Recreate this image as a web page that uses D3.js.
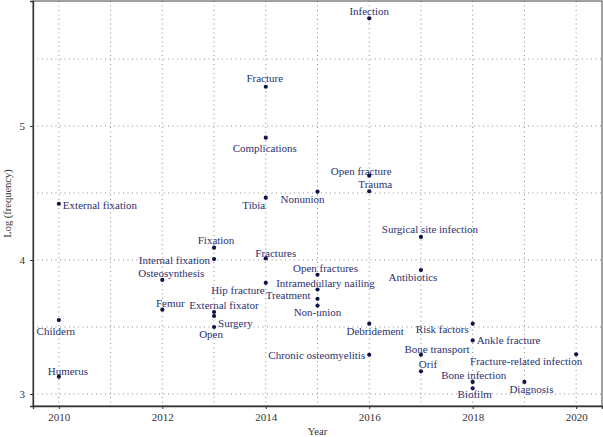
<!DOCTYPE html>
<html><head><meta charset="utf-8">
<script src="https://cdn.jsdelivr.net/npm/d3@7"></script>
<style>body{margin:0;background:#fff}svg{display:block}</style>
</head><body>
<svg id="chart" width="603" height="437"></svg>
<script>
const keywords = ["Infection","Fracture","Complications","External fixation","Tibia","Nonunion","Open fracture","Trauma","Surgical site infection","Antibiotics","Fixation","Internal fixation","Fractures","Osteosynthesis","Open fractures","Hip fracture","Intramedullary nailing","Treatment","Non-union","Femur","External fixator","Surgery","Open","Childern","Humerus","Debridement","Chronic osteomyelitis","Risk factors","Ankle fracture","Bone transport","Orif","Fracture-related infection","Bone infection","Biofilm","Diagnosis"];
const years = [2016,2014,2014,2010,2014,2015,2016,2016,2017,2017,2013,2013,2014,2012,2015,2014,2015,2015,2015,2012,2013,2013,2013,2010,2010,2016,2016,2018,2018,2017,2017,2020,2018,2018,2019];
const logFreq = [5.804,5.293,4.913,4.42,4.465,4.51,4.629,4.513,4.172,3.925,4.092,4.007,4.012,3.851,3.89,3.83,3.78,3.71,3.66,3.629,3.612,3.582,3.5,3.552,3.129,3.525,3.293,3.525,3.40,3.293,3.169,3.296,3.09,3.042,3.09];
const xTicks = [2010,2012,2014,2016,2018,2020];
const yTicks = [3,4,5];
const xMinor = [2011,2013,2015,2017,2019];
const yMinor = [3.5,4.5,5.5];

// label placement (screen offsets from point) — layout only
const labelLayout = {
 "Infection":[0,-7,"middle"],"Fracture":[-1,-9,"middle"],"Complications":[-1,10,"middle"],
 "External fixation":[4,1,"start"],"Tibia":[-12,7,"middle"],"Nonunion":[-15,7,"middle"],
 "Open fracture":[-8,-5,"middle"],"Trauma":[6,-7,"middle"],"Surgical site infection":[9,-8,"middle"],
 "Antibiotics":[-8,7,"middle"],"Fixation":[2,-8,"middle"],"Internal fixation":[-4,1,"end"],
 "Fractures":[10,-5,"middle"],"Osteosynthesis":[9,-7,"middle"],"Open fractures":[8,-7,"middle"],
 "Hip fracture":[-1,7,"end"],"Intramedullary nailing":[8,-6,"middle"],"Treatment":[-7,-4,"end"],
 "Non-union":[0,7,"middle"],"Femur":[8,-7,"middle"],"External fixator":[10,-7,"middle"],
 "Surgery":[4,7,"start"],"Open":[-3,7,"middle"],"Childern":[-3,11,"middle"],"Humerus":[9,-6,"middle"],
 "Debridement":[6,8,"middle"],"Chronic osteomyelitis":[-4,0,"end"],"Risk factors":[-4,6,"end"],
 "Ankle fracture":[4,0,"start"],"Bone transport":[16,-6,"middle"],"Orif":[7,-7,"middle"],
 "Fracture-related infection":[-50,7,"middle"],"Bone infection":[1,-7,"middle"],
 "Biofilm":[2,6,"middle"],"Diagnosis":[7,7,"middle"]
};

const svg = d3.select("#chart");
const L=33,R=602,T=1,B=406;
const x = d3.scaleLinear().domain([2009.5,2020.5]).range([L,R]);
const y = d3.scaleLinear().domain([2.9104,5.933]).range([B,T]);
const font = "'Liberation Serif','Times New Roman',serif";

// grid
const g = svg.append("g");
g.selectAll(".vg").data(xTicks.concat(xMinor)).join("line")
 .attr("x1",d=>x(d)).attr("x2",d=>x(d)).attr("y1",T).attr("y2",B)
 .attr("stroke","#8a8a8a").attr("stroke-width",1).attr("stroke-dasharray","1,3.5");
g.selectAll(".hg").data(yTicks.concat(yMinor)).join("line")
 .attr("y1",d=>y(d)).attr("y2",d=>y(d)).attr("x1",L).attr("x2",R)
 .attr("stroke","#8a8a8a").attr("stroke-width",1).attr("stroke-dasharray","1,3.5");

// frame
svg.append("rect").attr("x",L).attr("y",T).attr("width",R-L).attr("height",B-T)
 .attr("fill","none").attr("stroke","#444").attr("stroke-width",1);

// axes
const xAxis = svg.append("g").attr("transform",`translate(0,${B})`)
 .call(d3.axisBottom(x).tickValues(xTicks).tickFormat(d3.format("d")).tickSize(3).tickPadding(4));
const yAxis = svg.append("g").attr("transform",`translate(${L},0)`)
 .call(d3.axisLeft(y).tickValues(yTicks).tickFormat(d3.format("d")).tickSize(3).tickPadding(5));
[xAxis,yAxis].forEach(a=>{
 a.select(".domain").attr("stroke","#333").attr("stroke-width",1.3);
 a.selectAll(".tick line").attr("stroke","#333");
 a.selectAll("text").attr("font-family",font).attr("font-size",11).attr("fill","#333");
});

// axis titles
svg.append("text").attr("x",(L+R)/2).attr("y",435).attr("text-anchor","middle")
 .attr("font-family",font).attr("font-size",10.5).attr("fill","#333").text("Year");
svg.append("text").attr("transform",`translate(11,${(T+B)/2}) rotate(-90)`).attr("text-anchor","middle")
 .attr("font-family",font).attr("font-size",10.5).attr("fill","#333").text("Log (frequency)");

const data = keywords.map((k,i)=>({k,yr:years[i],v:logFreq[i]}));

// labels
svg.append("g").selectAll("text").data(data).join("text")
 .attr("x",d=>x(d.yr)+labelLayout[d.k][0])
 .attr("y",d=>y(d.v)+labelLayout[d.k][1])
 .attr("dy","0.35em")
 .attr("text-anchor",d=>labelLayout[d.k][2])
 .attr("font-family",font).attr("font-size",11).attr("fill","#2c3170")
 .text(d=>d.k);

// points
svg.append("g").selectAll("circle").data(data).join("circle")
 .attr("cx",d=>x(d.yr)).attr("cy",d=>y(d.v)).attr("r",2.1).attr("fill","#0d1446");
</script>
</body></html>
